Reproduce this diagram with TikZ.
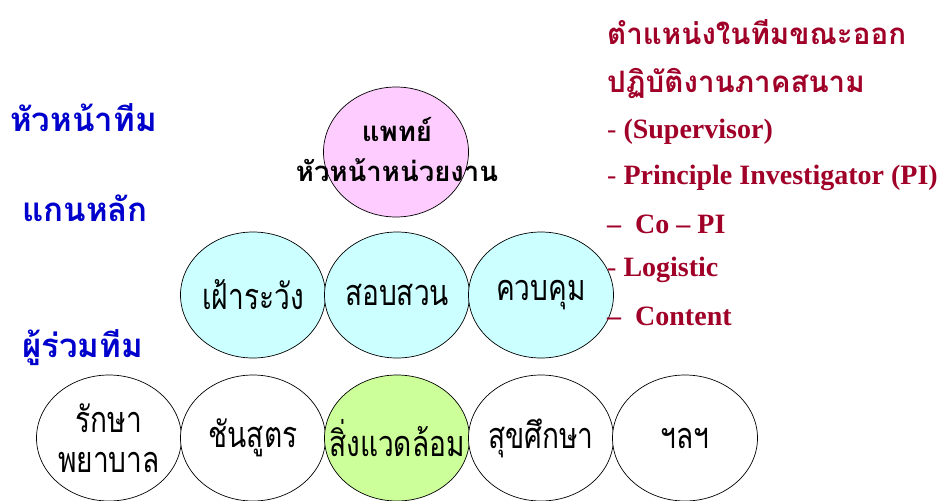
\documentclass[tikz,border=0pt]{standalone}
\usepackage{fontspec}
\setmainfont{Liberation Serif}
\newfontfamily\thaifont[Script=Thai]{Loma}
\newfontfamily\thaicond[Script=Thai,FakeStretch=0.78]{Loma}
\usetikzlibrary{shapes.geometric}
\definecolor{hblue}{RGB}{0,0,204}
\definecolor{hred}{RGB}{160,0,40}
\definecolor{pinkfill}{RGB}{255,204,255}
\definecolor{cyanfill}{RGB}{204,255,255}
\definecolor{greenfill}{RGB}{204,255,153}
\tikzset{
  ell/.style={ellipse, draw=black, line width=0.7pt, inner sep=0pt,
    minimum width=145pt, minimum height=126pt},
  elltext/.style={font=\thaicond\fontsize{36}{40}\selectfont, align=center, inner sep=0pt},
  toptext/.style={font=\thaifont\bfseries\fontsize{27.5}{40}\selectfont, align=center, inner sep=0pt},
  levellabel/.style={font=\thaifont\bfseries\fontsize{33}{36}\selectfont, text=hblue, anchor=west, inner sep=0pt},
  rolehead/.style={font=\thaifont\bfseries\fontsize{29.5}{32}\selectfont, text=hred, anchor=west, inner sep=0pt},
  roleitem/.style={font=\bfseries\fontsize{28}{30}\selectfont, text=hred, anchor=west, inner sep=0pt}
}
\begin{document}
\begin{tikzpicture}[x=1pt,y=-1pt]
\useasboundingbox (0,0) rectangle (941,500);
\begin{scope}
\clip (0,0) rectangle (941,500);
% head
\node[ell, fill=pinkfill, minimum height=130pt] (head) at (396,152) {};
\node[toptext] (headtxt) at (397,150) {แพทย์\\หัวหน้าหน่วยงาน};
% core
\node[ell, fill=cyanfill] (c1) at (253,295) {};
\node[ell, fill=cyanfill] (c2) at (397,295) {};
\node[ell, fill=cyanfill] (c3) at (541,295) {};
\node[elltext] at (c1) {เฝ้าระวัง};
\node[elltext] at (c2) {สอบสวน};
\node[elltext] at (c3) {ควบคุม};
% members
\node[ell, fill=white] (m1) at (109,438) {};
\node[ell, fill=white] (m2) at (253,438) {};
\node[ell, fill=greenfill] (m3) at (397,438) {};
\node[ell, fill=white] (m4) at (541,438) {};
\node[ell, fill=white] (m5) at (685,438) {};
\node[elltext] at (m1) {รักษา\\พยาบาล};
\node[elltext] at (m2) {ชันสูตร};
\node[elltext] at (m3) {สิ่งแวดล้อม};
\node[elltext] at (m4) {สุขศึกษา};
\node[elltext] at (m5) {ฯลฯ};
\end{scope}
% level labels
\node[levellabel] (l1) at (10,118) {หัวหน้าทีม};
\node[levellabel] (l2) at (22,208) {แกนหลัก};
\node[levellabel] (l3) at (22,348) {ผู้ร่วมทีม};
% roles
\node[rolehead] (r1) at (607,32) {ตำแหน่งในทีมขณะออก};
\node[rolehead] (r2) at (607,83) {ปฏิบัติงานภาคสนาม};
\node[roleitem] (r3) at (607,132) {{\mdseries -} (Supervisor)};
\node[roleitem] (r4) at (607,178) {{\mdseries -} Principle Investigator (PI)};
\node[roleitem] (r5) at (607,224) {–\ \ Co – PI};
\node[roleitem] (r6) at (607,270) {{\mdseries -} Logistic};
\node[roleitem] (r7) at (607,316) {–\ \ Content};
\end{tikzpicture}
\end{document}
